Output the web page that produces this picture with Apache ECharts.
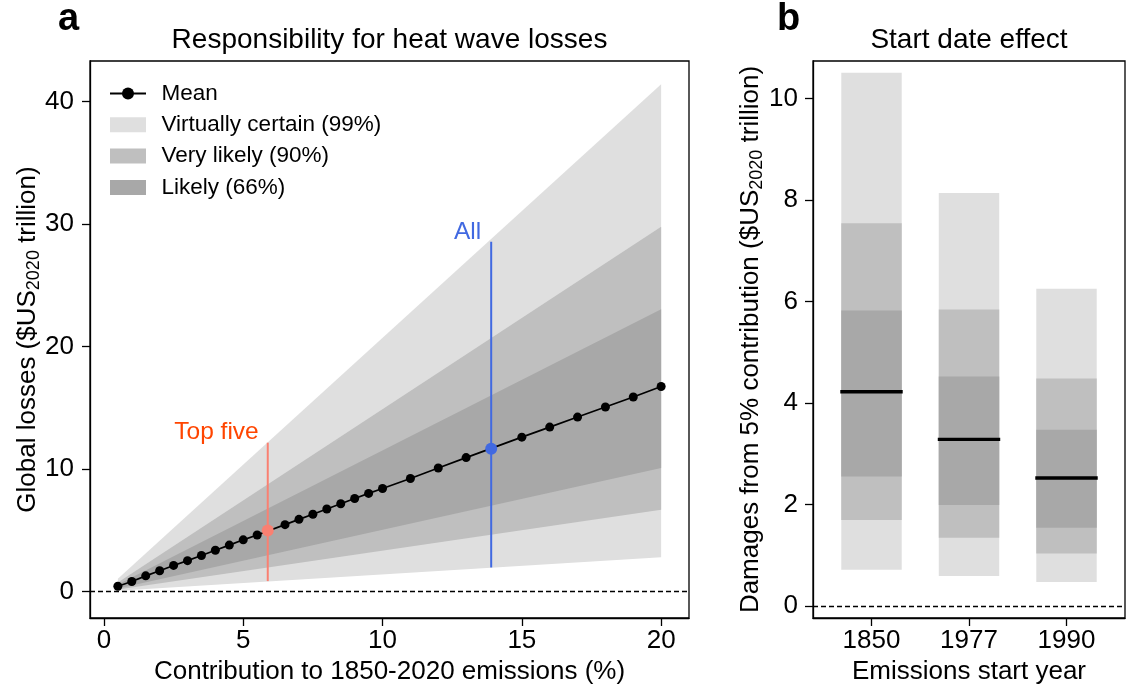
<!DOCTYPE html>
<html>
<head>
<meta charset="utf-8">
<script src="https://cdn.jsdelivr.net/npm/echarts@6/dist/echarts.min.js"></script>
<style>
  html, body { margin: 0; padding: 0; background: #fff; }
  #main { width: 1127px; height: 696px; }
</style>
</head>
<body>
<div id="main"></div>
<script>
// panel a: mean losses vs contribution
const meanX = [0.5, 1, 1.5, 2, 2.5, 3, 3.5, 4, 4.5, 5, 5.5, 6.5, 7, 7.5, 8, 8.5, 9, 9.5, 10, 11, 12, 13, 15, 16, 17, 18, 19, 20];
const meanY = [0.43, 0.82, 1.28, 1.70, 2.13, 2.52, 2.94, 3.37, 3.79, 4.22, 4.61, 5.46, 5.89, 6.31, 6.74, 7.16, 7.59, 8.01, 8.41, 9.23, 10.08, 10.93, 12.60, 13.42, 14.24, 15.06, 15.88, 16.73];
// uncertainty bands (edges are straight lines between the two ends)
const bandX = [0.5, 20];
const lo99 = [0.07, 2.79];
const hi99 = [1.04, 41.41];
const lo90 = [0.17, 6.68];
const hi90 = [0.74, 29.78];
const lo66 = [0.25, 10.08];
const hi66 = [0.58, 23.04];
// highlighted contributors
const markerNames = ['Top five', 'All'];
const markerX = [5.88, 13.9];
const markerMean = [4.98, 11.66];
const markerLo = [0.85, 1.97];
const markerHi = [12.15, 28.54];
const xTicksA = [0, 5, 10, 15, 20];
const yTicksA = [0, 10, 20, 30, 40];

// panel b: start date effect
const startYears = ['1850', '1977', '1990'];
const bLo99 = [0.71, 0.59, 0.47];
const bHi99 = [10.51, 8.14, 6.25];
const bLo90 = [1.69, 1.34, 1.03];
const bHi90 = [7.54, 5.84, 4.48];
const bLo66 = [2.55, 1.99, 1.54];
const bHi66 = [5.82, 4.52, 3.47];
const bMean = [4.22, 3.28, 2.52];
const yTicksB = [0, 2, 4, 6, 8, 10];

const FONT = 'Liberation Sans, Arial, Helvetica, sans-serif';
const C99 = '#dfdfdf', C90 = '#bfbfbf', C66 = '#a8a8a8';
const MARK_COLORS = ['#fa8072', '#4169e1'];
const LABEL_COLORS = ['#ff4500', '#4169e1'];
const BAR_HALF = 0.31;

const chart = echarts.init(document.getElementById('main'), null, { renderer: 'canvas' });

function bandPoly(params, api) {
    const pts = [
        api.coord([api.value(0), api.value(1)]),
        api.coord([api.value(3), api.value(4)]),
        api.coord([api.value(3), api.value(5)]),
        api.coord([api.value(0), api.value(2)])
    ];
    return { type: 'polygon', shape: { points: pts }, style: { fill: api.visual('color') } };
}
function bandSeries(name, lo, hi, color) {
    return {
        name: name, type: 'custom', xAxisIndex: 0, yAxisIndex: 0,
        renderItem: bandPoly, clip: true, silent: true, z: 1,
        itemStyle: { color: color },
        encode: { x: [0, 3], y: [1, 2, 4, 5] },
        data: [[bandX[0], lo[0], hi[0], bandX[1], lo[1], hi[1]]]
    };
}
function barRect(params, api) {
    const x = api.value(0);
    const p0 = api.coord([x - BAR_HALF, api.value(2)]);
    const p1 = api.coord([x + BAR_HALF, api.value(1)]);
    return {
        type: 'rect',
        shape: { x: p0[0], y: p0[1], width: p1[0] - p0[0], height: p1[1] - p0[1] },
        style: { fill: api.visual('color') }
    };
}
function barSeries(name, lo, hi, color) {
    return {
        name: name, type: 'custom', xAxisIndex: 1, yAxisIndex: 1,
        renderItem: barRect, silent: true, z: 1,
        itemStyle: { color: color },
        encode: { x: 0, y: [1, 2] },
        data: startYears.map((y, i) => [i, lo[i], hi[i]])
    };
}

const axisCommon = {
    axisLine: { show: true, onZero: false, lineStyle: { color: '#000', width: 1.3 } },
    axisTick: { show: true, length: 8, lineStyle: { color: '#000', width: 1.3 } },
    splitLine: { show: false },
    nameTextStyle: { color: '#000', fontSize: 26, fontFamily: FONT },
    nameLocation: 'middle',
    nameMoveOverlap: false
};
const labelCommon = { color: '#000', fontSize: 26, fontFamily: FONT };

const subRich = {
    n: { fontSize: 26, fontFamily: FONT, color: '#000', lineHeight: 30 },
    s: { fontSize: 18, fontFamily: FONT, color: '#000', verticalAlign: 'bottom' }
};

const dashed = {
    silent: true, symbol: 'none', label: { show: false },
    lineStyle: { color: '#000', type: [5, 3], width: 1.3 },
    data: [{ yAxis: 0 }]
};

const series = [
    bandSeries('Virtually certain (99%)', lo99, hi99, C99),
    bandSeries('Very likely (90%)', lo90, hi90, C90),
    bandSeries('Likely (66%)', lo66, hi66, C66)
];
markerNames.forEach((nm, i) => {
    series.push({
        type: 'line', xAxisIndex: 0, yAxisIndex: 0, z: 3, silent: true,
        symbol: 'circle', symbolSize: 0,
        lineStyle: { color: MARK_COLORS[i], width: 2 },
        itemStyle: { color: MARK_COLORS[i] },
        data: [
            [markerX[i], markerLo[i]],
            {
                value: [markerX[i], markerHi[i]],
                label: {
                    show: true, formatter: nm, position: 'left', distance: i === 0 ? 9 : 10,
                    offset: [0, -10],
                    color: LABEL_COLORS[i], fontSize: 24.5, fontFamily: FONT
                }
            }
        ]
    });
});
series.push({
    name: 'Mean', type: 'line', xAxisIndex: 0, yAxisIndex: 0, z: 5,
    symbol: 'circle', symbolSize: 9,
    lineStyle: { color: '#000', width: 1.7 },
    itemStyle: { color: '#000' },
    data: meanX.map((x, i) => [x, meanY[i]]),
    markLine: dashed
});
markerNames.forEach((nm, i) => {
    series.push({
        type: 'scatter', xAxisIndex: 0, yAxisIndex: 0, z: 6, silent: true,
        symbolSize: 12, itemStyle: { color: MARK_COLORS[i], opacity: 1 },
        data: [[markerX[i], markerMean[i]]]
    });
});
series.push(barSeries('b99', bLo99, bHi99, C99));
series.push(barSeries('b90', bLo90, bHi90, C90));
series.push(barSeries('b66', bLo66, bHi66, C66));
series.push({
    name: 'bMean', type: 'custom', xAxisIndex: 1, yAxisIndex: 1, z: 4, silent: true,
    encode: { x: 0, y: 1 },
    data: startYears.map((y, i) => [i, bMean[i]]),
    renderItem: function (params, api) {
        const p0 = api.coord([api.value(0) - BAR_HALF, api.value(1)]);
        const p1 = api.coord([api.value(0) + BAR_HALF, api.value(1)]);
        return {
            type: 'line',
            shape: { x1: p0[0] - 1, y1: p0[1], x2: p1[0] + 1, y2: p1[1] },
            style: { stroke: '#000', lineWidth: 3.3 }
        };
    },
    markLine: dashed
});

const option = {
    animation: false,
    backgroundColor: '#fff',
    grid: [
        { left: 90, top: 61, width: 599, height: 557, show: true, borderColor: '#000', borderWidth: 1.3, backgroundColor: 'transparent' },
        { left: 813, top: 61, width: 312, height: 557, show: true, borderColor: '#000', borderWidth: 1.3, backgroundColor: 'transparent' }
    ],
    xAxis: [
        Object.assign({}, axisCommon, {
            type: 'value', gridIndex: 0, min: -0.5, max: 21,
            name: 'Contribution to 1850-2020 emissions (%)', nameGap: 41,
            axisLabel: Object.assign({}, labelCommon, { margin: 10, customValues: xTicksA }),
            axisTick: Object.assign({}, axisCommon.axisTick, { customValues: xTicksA })
        }),
        Object.assign({}, axisCommon, {
            type: 'value', gridIndex: 1, min: -0.6, max: 2.6,
            name: 'Emissions start year', nameGap: 41,
            axisLabel: Object.assign({}, labelCommon, {
                margin: 10, customValues: [0, 1, 2],
                formatter: v => startYears[Math.round(v)]
            }),
            axisTick: Object.assign({}, axisCommon.axisTick, { customValues: [0, 1, 2] })
        })
    ],
    yAxis: [
        Object.assign({}, axisCommon, {
            type: 'value', gridIndex: 0, min: -2.16, max: 43.3,
            name: '{n|Global losses ($US}{s|2020}{n| trillion)}', nameGap: 47,
            nameTextStyle: { color: '#000', fontSize: 26, fontFamily: FONT, rich: subRich },
            axisLabel: Object.assign({}, labelCommon, { margin: 16, customValues: yTicksA }),
            axisTick: Object.assign({}, axisCommon.axisTick, { customValues: yTicksA })
        }),
        Object.assign({}, axisCommon, {
            type: 'value', gridIndex: 1, min: -0.24, max: 10.74,
            name: '{n|Damages from 5% contribution ($US}{s|2020}{n| trillion)}', nameGap: 47,
            nameTextStyle: { color: '#000', fontSize: 26, fontFamily: FONT, rich: subRich },
            axisLabel: Object.assign({}, labelCommon, { margin: 15, customValues: yTicksB }),
            axisTick: Object.assign({}, axisCommon.axisTick, { customValues: yTicksB })
        })
    ],
    legend: {
        orient: 'vertical', left: 109, top: 82, padding: 0,
        itemWidth: 36, itemHeight: 15, itemGap: 8.3,
        selectedMode: false,
        textStyle: { color: '#000', fontSize: 22.5, fontFamily: FONT, lineHeight: 22, padding: [0, 0, 0, 10.5] },
        data: [
            { name: 'Mean' },
            { name: 'Virtually certain (99%)', icon: 'rect' },
            { name: 'Very likely (90%)', icon: 'rect' },
            { name: 'Likely (66%)', icon: 'rect' }
        ]
    },
    graphic: [
        { type: 'text', x: 58, y: 20, style: { text: 'a', fontSize: 38, fontWeight: 'bold', fontFamily: FONT, fill: '#000', align: 'left', verticalAlign: 'middle' } },
        { type: 'text', x: 777, y: 20, style: { text: 'b', fontSize: 38, fontWeight: 'bold', fontFamily: FONT, fill: '#000', align: 'left', verticalAlign: 'middle' } },
        { type: 'text', x: 389.5, y: 40, style: { text: 'Responsibility for heat wave losses', fontSize: 28, fontFamily: FONT, fill: '#000', align: 'center', verticalAlign: 'middle' } },
        { type: 'text', x: 969, y: 40, style: { text: 'Start date effect', fontSize: 28, fontFamily: FONT, fill: '#000', align: 'center', verticalAlign: 'middle' } }
    ],
    series: series
};
chart.setOption(option);
</script>
</body>
</html>
